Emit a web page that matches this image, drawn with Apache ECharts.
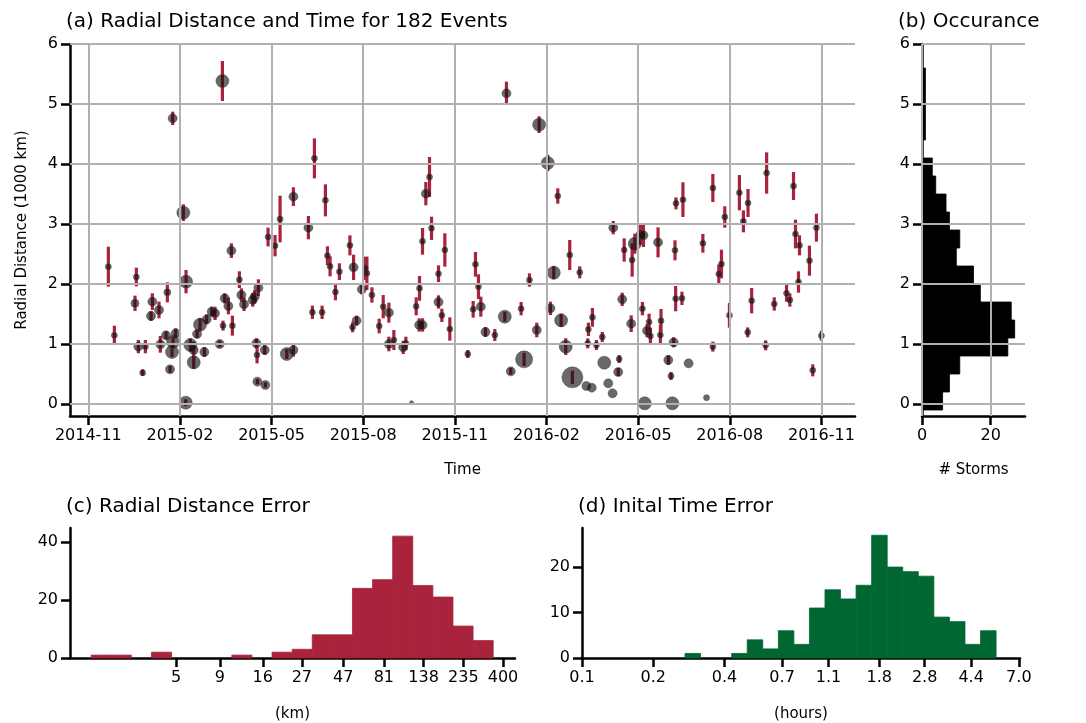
<!DOCTYPE html>
<html><head><meta charset="utf-8">
<script src="https://cdn.jsdelivr.net/npm/echarts@6/dist/echarts.min.js"></script>
<style>html,body{margin:0;padding:0;background:#fff}#c{width:1086px;height:723px}</style>
</head><body><div id="c"></div>
<script>
// ---- Panel (a): events (months since 2014-11-01, distance in 1000 km, error half-length, marker size)
const eventMonth = [0.655,0.852,1.572,1.528,1.638,1.867,1.779,2.096,2.052,2.314,2.587,2.358,2.544,2.740,2.773,2.860,2.675,2.762,3.111,3.199,3.188,3.341,3.450,3.450,3.559,3.657,3.799,3.876,4.039,4.148,4.301,4.389,4.410,4.465,4.585,4.683,4.716,4.945,5.011,5.098,5.382,5.448,5.568,5.502,5.524,5.775,5.535,5.797,5.884,6.114,6.277,6.496,6.714,6.714,7.205,7.402,7.762,7.336,7.653,7.828,7.915,8.090,8.220,
8.564,8.684,8.651,8.782,8.956,9.065,9.120,9.284,9.523,9.654,9.840,9.840,10.003,10.309,10.396,10.581,10.734,10.843,10.832,10.941,10.941,11.050,11.170,11.236,11.465,11.465,11.574,11.672,11.835,12.424,12.599,12.675,12.773,12.850,13.002,13.308,13.635,13.689,13.831,14.169,14.267,14.442,14.682,14.758,15.041,15.129,15.238,15.369,15.478,15.630,15.761,15.848,16.088,16.306,16.481,16.372,16.503,16.350,16.634,
16.826,16.891,17.022,17.163,17.185,17.380,17.348,17.478,17.543,17.772,17.804,17.891,18.076,18.174,18.141,18.217,18.359,18.293,18.402,18.652,18.750,18.728,19.163,18.989,19.076,19.120,19.207,19.239,19.228,19.435,19.467,19.652,20.120,20.239,20.446,20.446,20.641,20.728,20.837,20.989,21.315,21.446,21.598,21.587,21.717,22.174,22.207,22.457,22.859,22.967,23.087,23.152,23.283,23.250,23.609,23.717,23.837,24.000];
const eventDist = [2.289,1.144,2.117,1.678,0.956,0.956,0.522,1.706,1.467,1.567,1.861,0.994,1.144,0.867,1.033,1.178,0.578,4.761,3.189,2.039,0.022,0.983,0.900,0.694,1.167,1.322,0.867,1.411,1.539,1.511,1.000,5.383,1.306,1.761,1.633,2.556,1.306,2.072,1.817,1.661,1.733,1.789,1.939,1.011,0.817,0.900,0.372,0.317,2.783,2.639,3.083,0.833,0.900,3.456,2.939,4.094,3.394,1.528,1.528,2.472,2.294,1.867,2.206,
2.644,2.278,1.278,1.389,1.911,2.261,2.178,1.817,1.300,1.622,1.522,1.000,1.067,0.944,1.011,0.022,1.628,1.928,1.317,1.317,2.711,3.506,3.783,2.928,2.172,1.700,1.478,2.567,1.250,0.833,1.578,2.328,1.956,1.622,1.200,1.150,1.456,5.178,0.544,1.589,0.744,2.067,1.233,4.656,4.017,1.594,2.189,3.467,1.394,0.956,2.483,0.444,2.194,0.300,0.272,1.244,1.444,1.011,0.983,
1.117,0.689,0.344,0.178,2.939,0.750,0.533,1.744,2.567,1.339,2.400,2.672,2.822,2.811,1.589,0.011,1.367,1.222,1.133,2.694,1.389,1.150,1.028,0.733,0.467,0.011,2.561,3.344,1.756,1.761,3.406,0.678,2.678,0.106,3.600,0.956,2.167,2.333,3.117,1.478,3.522,3.044,3.350,1.194,1.722,0.978,3.850,1.667,1.844,1.733,3.633,2.833,2.644,2.033,2.389,0.561,2.939,1.139];
const eventErr = [0.333,0.161,0.156,0.128,0.111,0.111,0.056,0.139,0.083,0.139,0.167,0.139,0.067,0.083,0.083,0.083,0.056,0.111,0.139,0.194,0.056,0.111,0.139,0.111,0.067,0.111,0.083,0.083,0.083,0.111,0.056,0.333,0.083,0.083,0.139,0.122,0.167,0.139,0.111,0.111,0.111,0.111,0.139,0.083,0.139,0.083,0.044,0.044,0.156,0.178,0.389,0.083,0.111,0.156,0.194,0.333,0.267,0.111,0.111,0.156,0.167,0.139,0.139,
0.167,0.211,0.083,0.083,0.083,0.194,0.278,0.128,0.122,0.194,0.167,0.122,0.167,0.111,0.111,0,0.150,0.206,0.111,0.111,0.222,0.194,0.333,0.194,0.139,0.111,0.111,0.278,0.194,0.067,0.139,0.206,0.206,0.167,0.083,0.100,0.083,0.194,0.056,0.111,0.111,0.111,0.122,0.139,0.139,0.111,0.111,0.128,0.111,0.139,0.250,0.111,0.100,0,0,0.111,0.156,0.083,0.083,
0.083,0,0,0,0.111,0.067,0.067,0.111,0.194,0.139,0.278,0.167,0.167,0.194,0.111,0,0.139,0.111,0.139,0.250,0.194,0.167,0.083,0.083,0.067,0,0.167,0.100,0.211,0.111,0.289,0,0.156,0,0.233,0.083,0.156,0.239,0.178,0.206,0.294,0.183,0.233,0.083,0.211,0.083,0.344,0.111,0.139,0.111,0.233,0.239,0.167,0.178,0.250,0.100,0.233,0.083];
const eventSize = [6,6,6,8,9,6,6,9,9,9,7,9,9,13,13,9,9,9,13,13,13,13,9,13,9,13,9,9,9,9,9,13,6,9,9,9,6,6,9,9,9,9,9,9,6,9,9,9,6,6,6,13,9,9,9,6,6,6,6,6,6,6,6,
6,9,6,9,9,6,6,6,6,6,9,9,6,9,6,4,6,6,9,9,6,9,6,6,6,9,6,6,6,6,6,6,6,9,9,6,13,9,9,6,17,6,9,13,13,9,13,6,13,13,6,21,6,9,9,6,6,6,6,
6,13,9,9,9,6,9,9,6,9,6,13,9,9,6,13,6,9,6,9,6,6,9,9,6,13,6,6,6,6,6,9,6,6,6,6,6,6,6,6,6,6,6,6,6,6,6,6,6,6,6,6,6,6,6,6,6,6];
const timeTickMonths = [0,3,6,9,12,15,18,21,24];
const timeTickLabels = ['2014-11','2015-02','2015-05','2015-08','2015-11','2016-02','2016-05','2016-08','2016-11'];
const distTicks = [0,1,2,3,4,5,6];

// ---- Panel (b): occurrence histogram (bin edges in 1000 km, counts)
const occEdges = [-0.1,0.2,0.5,0.8,1.1,1.4,1.7,2.0,2.3,2.6,2.9,3.2,3.5,3.8,4.1,4.4,4.7,5.0,5.3,5.6];
const occCounts = [6,8,11,25,27,26,17,15,10,11,8,7,4,3,0,1,1,1,1];
const stormTicks = [0,20];

// ---- Panel (c): radial distance error histogram (log10 km bins)
const radErrLogStart = 0.205, radErrLogWidth = 0.117;
const radErrCounts = [1,1,0,2,0,0,0,1,0,2,3,8,8,24,27,42,25,21,11,6];
const radErrTicks = [5,9,16,27,47,81,138,235,400];
const radErrYTicks = [0,20,40];

// ---- Panel (d): initial time error histogram (log10 hours bins)
const timeErrLogStart = -0.565, timeErrLogWidth = 0.0657;
const timeErrCounts = [1,0,0,1,4,2,6,3,11,15,13,16,27,20,19,18,9,8,3,6];
const timeErrTicks = [0.1,0.2,0.4,0.7,1.1,1.8,2.8,4.4,7.0];
const timeErrYTicks = [0,10,20];

const RED = '#a8233b', GREEN = '#006732', GRID = '#b0b0b0';
const FONT = 'DejaVu Sans';
const chart = echarts.init(document.getElementById('c'));

function axisBase(extra){
  return Object.assign({
    axisLine:{show:true,onZero:false,lineStyle:{color:'#000',width:2.5}},
    axisTick:{show:true,length:9,lineStyle:{color:'#000',width:2.5}},
    axisLabel:{color:'#000',fontFamily:FONT,fontSize:16,margin:12},
    splitLine:{show:false}
  }, extra);
}
function withCustom(a, vals, fmt){
  a.axisTick.customValues = vals;
  a.axisLabel.customValues = vals;
  if (fmt) a.axisLabel.formatter = fmt;
  return a;
}
const nameStyle = {color:'#000',fontFamily:FONT,fontSize:15};

const xa = withCustom(axisBase({gridIndex:0,type:'value',min:-0.6,max:25.1}), timeTickMonths,
  v => { const i = timeTickMonths.findIndex(t => Math.abs(t - v) < 1e-6); return i >= 0 ? timeTickLabels[i] : ''; });
xa.name='Time'; xa.nameLocation='middle'; xa.nameGap=47; xa.nameTextStyle=nameStyle;
const ya = withCustom(axisBase({gridIndex:0,type:'value',min:-0.2,max:6}), distTicks);
ya.name='Radial Distance (1000 km)'; ya.nameLocation='middle'; ya.nameGap=40; ya.nameTextStyle=nameStyle;

const xb = withCustom(axisBase({gridIndex:1,type:'value',min:0,max:30}), stormTicks);
xb.name='# Storms'; xb.nameLocation='middle'; xb.nameGap=47; xb.nameTextStyle=nameStyle;
const yb = withCustom(axisBase({gridIndex:1,type:'value',min:-0.2,max:6}), distTicks);

const xc = withCustom(axisBase({gridIndex:2,type:'value',min:0.082,max:2.672}), radErrTicks.map(Math.log10),
  v => { const i = radErrTicks.findIndex(t => Math.abs(Math.log10(t) - v) < 1e-6); return i >= 0 ? String(radErrTicks[i]) : ''; });
xc.name='(km)'; xc.nameLocation='middle'; xc.nameGap=49; xc.nameTextStyle=nameStyle;
const yc = withCustom(axisBase({gridIndex:2,type:'value',min:0,max:44.8}), radErrYTicks);

const xd = withCustom(axisBase({gridIndex:3,type:'value',min:-1,max:0.85}), timeErrTicks.map(Math.log10),
  v => { const i = timeErrTicks.findIndex(t => Math.abs(Math.log10(t) - v) < 1e-6); return i >= 0 ? timeErrTicks[i].toFixed(1) : ''; });
xd.name='(hours)'; xd.nameLocation='middle'; xd.nameGap=49; xd.nameTextStyle=nameStyle;
const yd = withCustom(axisBase({gridIndex:3,type:'value',min:0,max:28.6}), timeErrYTicks);

function gridLines(xv, yv){
  return {type:'line', data:[], silent:true, z:1,
    markLine:{silent:true, symbol:['none','none'], animation:false, label:{show:false},
      lineStyle:{color:GRID,width:2,type:'solid'},
      data:[...xv.map(v=>({xAxis:v})), ...yv.map(v=>({yAxis:v}))]}};
}

const evData = eventMonth.map((m,i)=>[m, eventDist[i], eventErr[i], eventSize[i]]);
const occData = occCounts.map((c,i)=>[c, occEdges[i], occEdges[i+1]]);
const radData = radErrCounts.map((c,i)=>[radErrLogStart + i*radErrLogWidth, radErrLogStart + (i+1)*radErrLogWidth, c]);
const timData = timeErrCounts.map((c,i)=>[timeErrLogStart + i*timeErrLogWidth, timeErrLogStart + (i+1)*timeErrLogWidth, c]);

function vHist(color){
  return function(params, api){
    if (!(api.value(2) > 0)) return null;
    const p1 = api.coord([api.value(0), api.value(2)]), p2 = api.coord([api.value(1), 0]);
    return {type:'rect', shape:{x:p1[0], y:p1[1], width:p2[0]-p1[0], height:p2[1]-p1[1]}, style:{fill:color, stroke:color, lineWidth:0.8}};
  };
}

const gl = Object.assign(gridLines(timeTickMonths, distTicks), {xAxisIndex:0,yAxisIndex:0});
const glb = Object.assign(gridLines(stormTicks, distTicks), {xAxisIndex:1,yAxisIndex:1});
const titleStyle = {fontFamily:FONT,fontSize:20,fontWeight:'normal',color:'#000'};
const gridBase = {outerBoundsMode:'none', containLabel:false};

chart.setOption({
  animation:false,
  title:[
    {text:'(a) Radial Distance and Time for 182 Events', left:61, top:7, textStyle:titleStyle},
    {text:'(b) Occurance', left:893, top:7, textStyle:titleStyle},
    {text:'(c) Radial Distance Error', left:61, top:492, textStyle:titleStyle},
    {text:'(d) Inital Time Error', left:573, top:492, textStyle:titleStyle}
  ],
  grid:[
    Object.assign({left:70, top:44, width:785, height:372}, gridBase),
    Object.assign({left:922, top:44, width:103, height:372}, gridBase),
    Object.assign({left:70, top:528, width:445, height:130}, gridBase),
    Object.assign({left:582, top:528, width:438, height:130}, gridBase)
  ],
  xAxis:[xa,xb,xc,xd],
  yAxis:[ya,yb,yc,yd],
  series:[
    gl, glb,
    {type:'custom', xAxisIndex:0, yAxisIndex:0, z:3, data:evData,
      renderItem:function(params, api){
        const e = api.value(2); if (!(e > 0)) return null;
        const x = api.value(0), y = api.value(1);
        const p1 = api.coord([x, y+e]), p2 = api.coord([x, y-e]);
        return {type:'rect', shape:{x:p1[0]-1.6, y:p1[1], width:3.2, height:p2[1]-p1[1]}, style:{fill:RED}};
      }},
    {type:'scatter', xAxisIndex:0, yAxisIndex:0, z:4, data:evData,
      symbolSize: v => v[3],
      itemStyle:{color:'rgba(15,15,15,0.78)', borderColor:'rgba(60,60,60,0.6)', borderWidth:1}},
    {type:'custom', xAxisIndex:1, yAxisIndex:1, z:3, data:occData,
      renderItem:function(params, api){
        if (!(api.value(0) > 0)) return null;
        const p1 = api.coord([0, api.value(2)]), p2 = api.coord([api.value(0), api.value(1)]);
        return {type:'rect', shape:{x:p1[0], y:p1[1], width:p2[0]-p1[0], height:p2[1]-p1[1]}, style:{fill:'#000', stroke:'#000', lineWidth:0.8}};
      }},
    {type:'custom', xAxisIndex:2, yAxisIndex:2, data:radData, renderItem:vHist(RED)},
    {type:'custom', xAxisIndex:3, yAxisIndex:3, data:timData, renderItem:vHist(GREEN)}
  ]
});
</script></body></html>
